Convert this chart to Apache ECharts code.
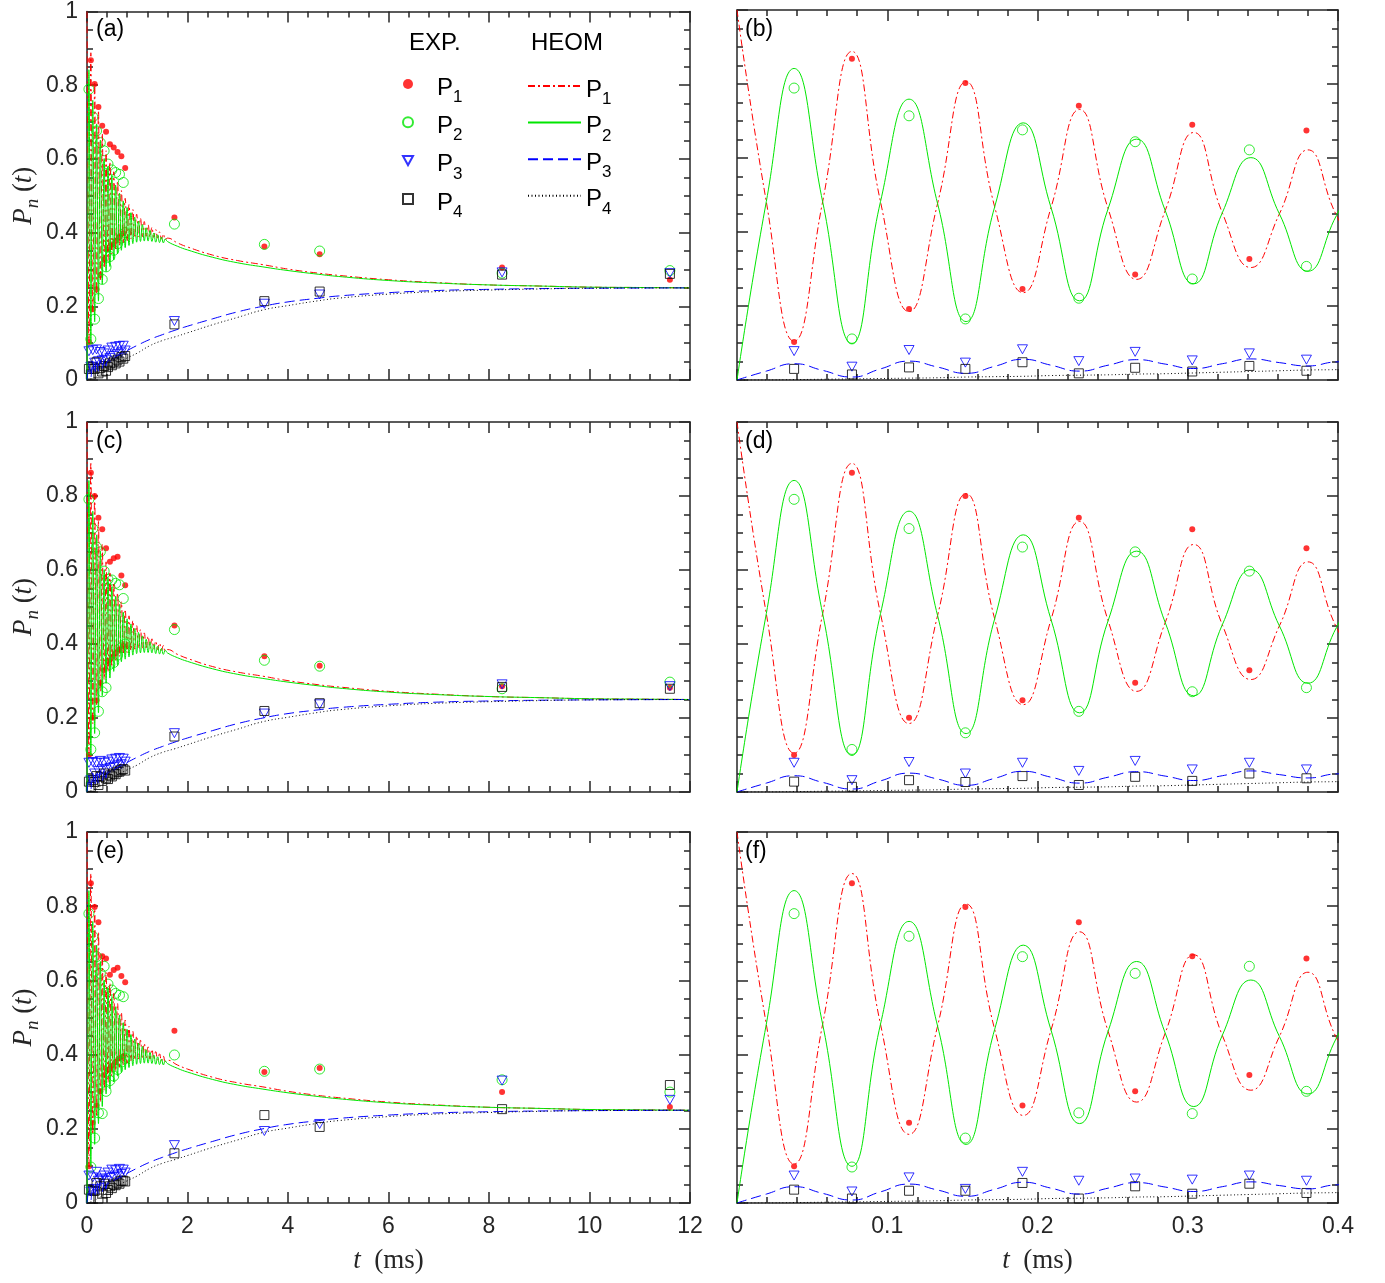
<!DOCTYPE html>
<html>
<head>
<meta charset="utf-8">
<script src="https://cdn.jsdelivr.net/npm/echarts@6/dist/echarts.min.js"></script>
<style>
  html, body { margin: 0; padding: 0; background: #fff; }
  #chart { width: 1385px; height: 1283px; }
</style>
</head>
<body>
<div id="chart"></div>
<script>
// experimental sampling times (ms), shared by all rows
var tExp = [0.038, 0.0765, 0.1145, 0.152, 0.190, 0.2275, 0.265, 0.303, 0.341, 0.379,
  0.418, 0.456, 0.494, 0.532, 0.570, 0.608, 0.646, 0.684, 0.722, 0.760,
  1.74, 3.53, 4.63, 8.26, 11.6];

// row 1 : (a) and (b)
var expA1 = [0.103, 0.868, 0.192, 0.803, 0.246, 0.741, 0.285, 0.690, 0.327, 0.674,
  0.355, 0.640, 0.368, 0.631, 0.378, 0.619, 0.388, 0.607, 0.398, 0.575,
  0.441, 0.362, 0.341, 0.305, 0.272];
var expA2 = [0.789, 0.111, 0.714, 0.165, 0.676, 0.221, 0.644, 0.273, 0.622, 0.307,
  0.586, 0.335, 0.570, 0.352, 0.563, 0.370, 0.558, 0.385, 0.536, 0.400,
  0.423, 0.368, 0.350, 0.290, 0.297];
var expA3 = [0.078, 0.036, 0.081, 0.047, 0.083, 0.051, 0.076, 0.053, 0.072, 0.055,
  0.080, 0.060, 0.088, 0.065, 0.090, 0.070, 0.092, 0.075, 0.093, 0.080,
  0.160, 0.207, 0.232, 0.292, 0.290];
var expA4 = [0.030, 0.015, 0.034, 0.030, 0.048, 0.018, 0.033, 0.023, 0.038, 0.025,
  0.035, 0.045, 0.040, 0.050, 0.045, 0.055, 0.050, 0.062, 0.058, 0.065,
  0.151, 0.214, 0.240, 0.286, 0.288];

// row 2 : (c) and (d)
var expC1 = [0.100, 0.863, 0.201, 0.800, 0.248, 0.741, 0.295, 0.710, 0.329, 0.659,
  0.355, 0.622, 0.365, 0.632, 0.375, 0.636, 0.385, 0.585, 0.395, 0.559,
  0.450, 0.367, 0.341, 0.286, 0.282];
var expC2 = [0.791, 0.115, 0.712, 0.160, 0.662, 0.218, 0.649, 0.271, 0.597, 0.282,
  0.575, 0.345, 0.573, 0.350, 0.564, 0.370, 0.560, 0.390, 0.523, 0.400,
  0.439, 0.356, 0.340, 0.279, 0.297];
var expC3 = [0.079, 0.032, 0.081, 0.050, 0.079, 0.057, 0.084, 0.061, 0.079, 0.061,
  0.082, 0.065, 0.088, 0.068, 0.090, 0.072, 0.092, 0.075, 0.090, 0.082,
  0.159, 0.212, 0.237, 0.291, 0.286];
var expC4 = [0.028, 0.014, 0.032, 0.027, 0.043, 0.019, 0.041, 0.030, 0.050, 0.037,
  0.035, 0.045, 0.042, 0.050, 0.048, 0.055, 0.055, 0.060, 0.062, 0.058,
  0.150, 0.219, 0.240, 0.284, 0.279];

// row 3 : (e) and (f)
var expE1 = [0.099, 0.862, 0.216, 0.798, 0.263, 0.757, 0.301, 0.665, 0.345, 0.659,
  0.360, 0.615, 0.370, 0.628, 0.380, 0.634, 0.390, 0.612, 0.395, 0.595,
  0.464, 0.353, 0.364, 0.299, 0.259];
var expE2 = [0.780, 0.097, 0.719, 0.175, 0.664, 0.243, 0.619, 0.241, 0.638, 0.301,
  0.590, 0.330, 0.574, 0.342, 0.565, 0.360, 0.560, 0.380, 0.556, 0.390,
  0.399, 0.355, 0.361, 0.332, 0.299];
var expE3 = [0.074, 0.031, 0.069, 0.038, 0.084, 0.060, 0.066, 0.063, 0.074, 0.060,
  0.082, 0.068, 0.090, 0.070, 0.088, 0.074, 0.092, 0.078, 0.090, 0.082,
  0.156, 0.194, 0.213, 0.330, 0.278];
var expE4 = [0.036, 0.012, 0.033, 0.033, 0.054, 0.012, 0.045, 0.025, 0.052, 0.027,
  0.035, 0.045, 0.040, 0.050, 0.048, 0.055, 0.052, 0.060, 0.060, 0.058,
  0.134, 0.237, 0.205, 0.253, 0.318];

// HEOM P1 / P2 : fast oscillating part (ms)
var tFast = [0, 0.0195, 0.038, 0.057, 0.0765, 0.0955, 0.1145, 0.1335, 0.1525, 0.1715,
  0.1905, 0.209, 0.228, 0.247, 0.266, 0.285, 0.304, 0.323, 0.342, 0.361, 0.380, 0.399,
  0.418, 0.456, 0.494, 0.532, 0.570, 0.608, 0.646, 0.684, 0.722, 0.760,
  0.798, 0.836, 0.874, 0.912, 0.950, 0.988, 1.026, 1.064, 1.102, 1.140,
  1.178, 1.216, 1.254, 1.292, 1.330, 1.368, 1.406, 1.444, 1.482, 1.520, 1.558];
var heomP1Fast = [1.000, 0.482, 0.105, 0.482, 0.888, 0.482, 0.185, 0.477, 0.806, 0.468,
  0.236, 0.466, 0.731, 0.463, 0.272, 0.458, 0.669, 0.452, 0.304, 0.449, 0.622, 0.445,
  0.325, 0.592, 0.342, 0.565, 0.356, 0.538, 0.366, 0.514, 0.373, 0.493,
  0.377, 0.476, 0.383, 0.463, 0.386, 0.450, 0.388, 0.439, 0.389, 0.430,
  0.390, 0.421, 0.388, 0.414, 0.387, 0.408, 0.385, 0.402, 0.383, 0.396, 0.381];
var heomP2Fast = [0.000, 0.482, 0.842, 0.482, 0.099, 0.482, 0.759, 0.477, 0.158, 0.468,
  0.695, 0.466, 0.214, 0.463, 0.651, 0.458, 0.260, 0.452, 0.601, 0.449, 0.294, 0.445,
  0.580, 0.308, 0.554, 0.326, 0.529, 0.342, 0.507, 0.352, 0.486, 0.359,
  0.468, 0.365, 0.454, 0.370, 0.442, 0.374, 0.431, 0.376, 0.422, 0.377,
  0.413, 0.377, 0.406, 0.376, 0.399, 0.374, 0.394, 0.373, 0.388, 0.372, 0.383];

// HEOM P1 / P2 : slow relaxation part
var tSlow = [1.6, 1.8, 2.0, 2.5, 3.0, 3.5, 4.0, 4.6, 5.0, 6.0, 7.0, 8.0, 9.0, 10.0, 11.0, 12.0];
var heomP1Slow = [0.385, 0.372, 0.361, 0.339, 0.324, 0.313, 0.301, 0.290, 0.284, 0.272,
  0.264, 0.258, 0.255, 0.252, 0.251, 0.250];
var heomP2Slow = [0.376, 0.363, 0.353, 0.333, 0.318, 0.307, 0.297, 0.287, 0.281, 0.270,
  0.263, 0.258, 0.255, 0.252, 0.251, 0.250];

// HEOM P3 / P4
var tP34 = [0, 0.0195, 0.038, 0.057, 0.0765, 0.0955, 0.1145, 0.1335, 0.1525, 0.1715,
  0.1905, 0.209, 0.228, 0.247, 0.266, 0.285, 0.304, 0.323, 0.342, 0.361, 0.380, 0.399,
  0.5, 0.6, 0.8, 1.0, 1.25, 1.5, 1.75, 2.0, 2.5, 3.0, 3.5, 4.0, 4.6, 5.0,
  6.0, 7.0, 8.0, 9.0, 10.0, 12.0];
var heomP3 = [0.000, 0.024, 0.044, 0.026, 0.008, 0.030, 0.051, 0.035, 0.018, 0.037,
  0.056, 0.040, 0.024, 0.040, 0.055, 0.043, 0.031, 0.044, 0.057, 0.047, 0.038, 0.049,
  0.058, 0.066, 0.080, 0.094, 0.110, 0.123, 0.135, 0.146, 0.166, 0.185, 0.200, 0.212,
  0.222, 0.228, 0.237, 0.243, 0.246, 0.248, 0.249, 0.250];
var heomP4 = [0.000, 0.000, 0.001, 0.002, 0.003, 0.004, 0.005, 0.006, 0.008, 0.009,
  0.010, 0.012, 0.013, 0.014, 0.016, 0.017, 0.019, 0.021, 0.023, 0.025, 0.027, 0.028,
  0.037, 0.046, 0.060, 0.073, 0.093, 0.107, 0.117, 0.128, 0.150, 0.170, 0.190, 0.202,
  0.215, 0.222, 0.233, 0.240, 0.244, 0.247, 0.249, 0.250];

var panelLabels = ['(a)', '(b)', '(c)', '(d)', '(e)', '(f)'];

function zip(t, v) {
  return t.map(function (x, i) { return [x, v[i]]; });
}

var expRows = [
  [expA1, expA2, expA3, expA4],
  [expC1, expC2, expC3, expC4],
  [expE1, expE2, expE3, expE4]
];
var heom = [
  zip(tFast, heomP1Fast).concat(zip(tSlow, heomP1Slow)),
  zip(tFast, heomP2Fast).concat(zip(tSlow, heomP2Slow)),
  zip(tP34, heomP3),
  zip(tP34, heomP4)
];

var RED = '#ff0000', GREEN = '#00e600', BLUE = '#0000ff', BLACK = '#000000';
var FRAME = '#262626';
var SANS = 'Liberation Sans';
var SERIF = 'Liberation Serif';
var DOWN_TRI = 'path://M0,0L10,0L5,9Z';

var lineStyles = [
  { color: RED, width: 1, type: [7, 3, 2, 3] },
  { color: GREEN, width: 1, type: 'solid' },
  { color: BLUE, width: 1, type: [10, 5] },
  { color: BLACK, width: 1, type: [1, 2.5] }
];
var markers = [
  { symbol: 'circle', size: 6, style: { color: RED } },
  { symbol: 'circle', size: 10, style: { color: 'rgba(0,0,0,0)', borderColor: GREEN, borderWidth: 1 } },
  { symbol: DOWN_TRI, size: 10, style: { color: 'rgba(0,0,0,0)', borderColor: BLUE, borderWidth: 1 } },
  { symbol: 'rect', size: 9, style: { color: 'rgba(0,0,0,0)', borderColor: BLACK, borderWidth: 1 } }
];

var grids = [], xAxes = [], yAxes = [], series = [], graphics = [];

var tickLine = { color: FRAME, width: 1.5 };

function makeX(g, pos) {
  var left = g % 2 === 0;
  var labelled = pos === 'bottom' && g >= 4;
  return {
    type: 'value', gridIndex: g, position: pos,
    min: 0, max: left ? 12 : 0.4, interval: left ? 2 : 0.1,
    axisLine: { show: true, onZero: false, lineStyle: tickLine },
    axisTick: { show: true, inside: true, length: 11, lineStyle: tickLine },
    minorTick: { show: true, splitNumber: 5, length: 6, lineStyle: tickLine },
    splitLine: { show: false },
    axisLabel: { show: labelled, fontSize: 23, color: FRAME, fontFamily: SANS, margin: 12 },
    name: labelled ? '{i|t}{r|  (ms)}' : '',
    nameLocation: 'middle', nameGap: 44,
    nameTextStyle: {
      color: FRAME,
      rich: {
        i: { fontFamily: SERIF, fontStyle: 'italic', fontSize: 27, color: FRAME },
        r: { fontFamily: SERIF, fontSize: 27, color: FRAME }
      }
    }
  };
}

function makeY(g, pos) {
  var labelled = pos === 'left' && g % 2 === 0;
  return {
    type: 'value', gridIndex: g, position: pos,
    min: 0, max: 1, interval: 0.2,
    axisLine: { show: true, onZero: false, lineStyle: tickLine },
    axisTick: { show: true, inside: true, length: 11, lineStyle: tickLine },
    minorTick: { show: true, splitNumber: 4, length: 6, lineStyle: tickLine },
    splitLine: { show: false },
    axisLabel: { show: labelled, fontSize: 23, color: FRAME, fontFamily: SANS, margin: 9 },
    name: labelled ? '{i|P}{n|n}{r| (}{i|t}{r|)}' : '',
    nameLocation: 'middle', nameRotate: 90, nameGap: 44,
    nameTextStyle: {
      color: FRAME,
      rich: {
        i: { fontFamily: SERIF, fontStyle: 'italic', fontSize: 27, lineHeight: 28, verticalAlign: 'top', color: FRAME },
        n: { fontFamily: SERIF, fontStyle: 'italic', fontSize: 19, lineHeight: 20, padding: [13, 0, 0, 0], verticalAlign: 'top', color: FRAME },
        r: { fontFamily: SERIF, fontSize: 27, lineHeight: 28, verticalAlign: 'top', color: FRAME }
      }
    }
  };
}

var tops = [10, 422, 832];
var heights = [370, 370, 371];

for (var g = 0; g < 6; g++) {
  var row = Math.floor(g / 2);
  var left = g % 2 === 0;
  grids.push({
    left: left ? 87 : 737, top: tops[row],
    width: left ? 603 : 601, height: heights[row]
  });
  xAxes.push(makeX(g, 'bottom'), makeX(g, 'top'));
  yAxes.push(makeY(g, 'left'), makeY(g, 'right'));

  for (var k = 0; k < 4; k++) {
    series.push({
      name: 'e' + (k + 1), type: 'scatter',
      xAxisIndex: 2 * g, yAxisIndex: 2 * g,
      data: zip(tExp, expRows[row][k]),
      symbol: markers[k].symbol, symbolSize: markers[k].size, symbolKeepAspect: true,
      itemStyle: markers[k].style,
      clip: true, z: 2
    });
  }
  for (var k2 = 0; k2 < 4; k2++) {
    series.push({
      name: 'h' + (k2 + 1), type: 'line',
      xAxisIndex: 2 * g, yAxisIndex: 2 * g,
      data: heom[k2], smooth: 0.5,
      symbol: 'none', showSymbol: false,
      lineStyle: lineStyles[k2], itemStyle: { color: lineStyles[k2].color },
      clip: true, z: 3
    });
  }

  graphics.push({
    type: 'text', left: (left ? 96 : 745), top: tops[row] + 8,
    style: { text: panelLabels[g], font: '23px "Liberation Sans"', fill: '#000' }
  });
}

graphics.push(
  { type: 'text', left: 409, top: 31, style: { text: 'EXP.', font: '24px "Liberation Sans"', fill: '#000' } },
  { type: 'text', left: 531, top: 31, style: { text: 'HEOM', font: '24px "Liberation Sans"', fill: '#000' } }
);

function legendName(name) {
  return '{p|P}{s|' + name.charAt(1) + '}';
}
function legendText(shift) {
  return {
    color: '#000', fontFamily: SANS,
    rich: {
      p: { fontSize: 24, fontFamily: SANS, color: '#000', lineHeight: 24, padding: [4, 0, 0, shift], verticalAlign: 'top' },
      s: { fontSize: 17, fontFamily: SANS, color: '#000', lineHeight: 18, padding: [17, 0, 0, 0], verticalAlign: 'top' }
    }
  };
}

var option = {
  animation: false,
  backgroundColor: '#fff',
  grid: grids,
  xAxis: xAxes,
  yAxis: yAxes,
  series: series,
  graphic: graphics,
  legend: [
    {
      data: ['e1', 'e2', 'e3', 'e4'], orient: 'vertical', left: 402, top: 72, padding: 0,
      itemWidth: 10, itemHeight: 10, itemGap: 4.3, selectedMode: false, symbolKeepAspect: true,
      formatter: legendName, textStyle: legendText(19)
    },
    {
      data: ['h1', 'h2', 'h3', 'h4'], orient: 'vertical', left: 527, top: 74, padding: 0,
      itemWidth: 53, itemHeight: 10, itemGap: 2.6, selectedMode: false,
      itemStyle: { opacity: 0 },
      formatter: legendName, textStyle: legendText(0)
    }
  ]
};

var myChart = echarts.init(document.getElementById('chart'));
myChart.setOption(option);
</script>
</body>
</html>
